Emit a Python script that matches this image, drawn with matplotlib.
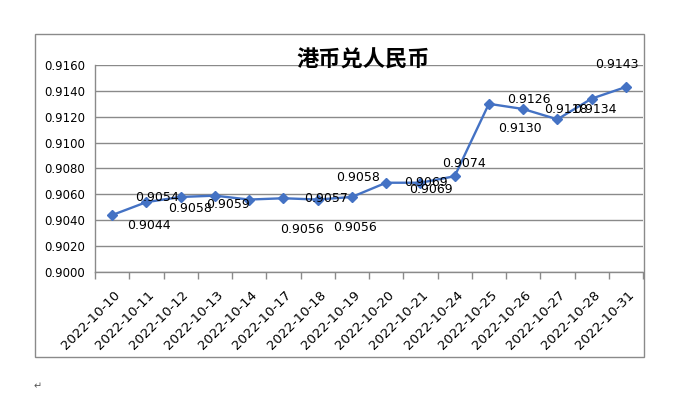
import matplotlib
matplotlib.use('Agg')
import matplotlib.pyplot as plt
from matplotlib.patches import Rectangle
from matplotlib.transforms import ScaledTranslation

# ---- data ----
dates = ['2022-10-10', '2022-10-11', '2022-10-12', '2022-10-13', '2022-10-14',
         '2022-10-17', '2022-10-18', '2022-10-19', '2022-10-20', '2022-10-21',
         '2022-10-24', '2022-10-25', '2022-10-26', '2022-10-27', '2022-10-28',
         '2022-10-31']
rates = [0.9044, 0.9054, 0.9058, 0.9059, 0.9056, 0.9057, 0.9056, 0.9058,
         0.9069, 0.9069, 0.9074, 0.9130, 0.9126, 0.9118, 0.9134, 0.9143]
yticks = [0.9000, 0.9020, 0.9040, 0.9060, 0.9080, 0.9100, 0.9120, 0.9140, 0.9160]
title = '港币兑人民币'

# label placement offsets in pixels (dx right, dy down)
label_off = [(37, 10), (11, -5), (9, 12), (13, 9), (53, 30), (43, 0),
             (37, 28), (6, -19), (40, 0), (11, 7), (9, -13), (31, 25),
             (6, -9), (9, -10), (3, 11), (-9, -22)]

W, H = 686, 395
DPI = 100
fig = plt.figure(figsize=(W / DPI, H / DPI), dpi=DPI)
fig.patch.set_facecolor('white')

grid_c = '#8a8a8a'

# outer frame
fig.patches.append(Rectangle((35 / W, 1 - 357 / H), (644 - 35) / W, (357 - 34) / H,
                             transform=fig.transFigure, fill=False,
                             edgecolor=grid_c, linewidth=1.0))

L, R, T, B = 95, 643, 65, 272
ax = fig.add_axes([L / W, 1 - B / H, (R - L) / W, (B - T) / H])
n = len(dates)
x = list(range(n))
ax.set_xlim(-0.5, n - 0.5)
ax.set_ylim(yticks[0], yticks[-1])

for sp in ['top', 'right']:
    ax.spines[sp].set_visible(False)
for sp in ['left', 'bottom']:
    ax.spines[sp].set_color(grid_c)
    ax.spines[sp].set_linewidth(1.0)

ax.set_yticks(yticks)
ax.set_yticklabels(['%.4f' % v for v in yticks])
ax.yaxis.grid(True, color=grid_c, linewidth=1.0)
ax.set_axisbelow(True)
ax.tick_params(axis='y', length=0, pad=7, labelsize=8.5, labelcolor='black')
ax.set_yticks([yticks[0]], minor=True)
ax.tick_params(axis='y', which='minor', length=4, color=grid_c, width=1.0)

ax.set_xticks(x)
ax.set_xticklabels(dates, rotation=45, ha='right', va='center',
                   rotation_mode='anchor')
ax.tick_params(axis='x', length=0, pad=15, labelsize=9.5, labelcolor='black')
ax.set_xticks([i - 0.5 for i in range(n + 1)], minor=True)
ax.tick_params(axis='x', which='minor', length=5, color=grid_c, width=1.0,
               direction='out')
off = ScaledTranslation(6 / DPI, 0, fig.dpi_scale_trans)
for lbl in ax.get_xticklabels():
    lbl.set_transform(lbl.get_transform() + off)

ax.plot(x, rates, color='#4472C4', linewidth=1.7, marker='D', markersize=5,
        clip_on=False, zorder=3)

for i, v in enumerate(rates):
    dx, dy = label_off[i]
    ax.annotate('%.4f' % v, (x[i], v), xytext=(dx, -dy), textcoords='offset pixels',
                ha='center', va='center', fontsize=9, color='black', zorder=4)

fig.text(363 / W, 1 - 60 / H, title, ha='center', va='center', fontsize=16,
         fontweight='bold', family=['Noto Sans CJK SC', 'DejaVu Sans'])

fig.text(38 / W, 1 - 386 / H, '\u21b5', ha='center', va='center', fontsize=7,
         color='#555555')

fig.savefig('out.png', dpi=DPI, facecolor='white')
